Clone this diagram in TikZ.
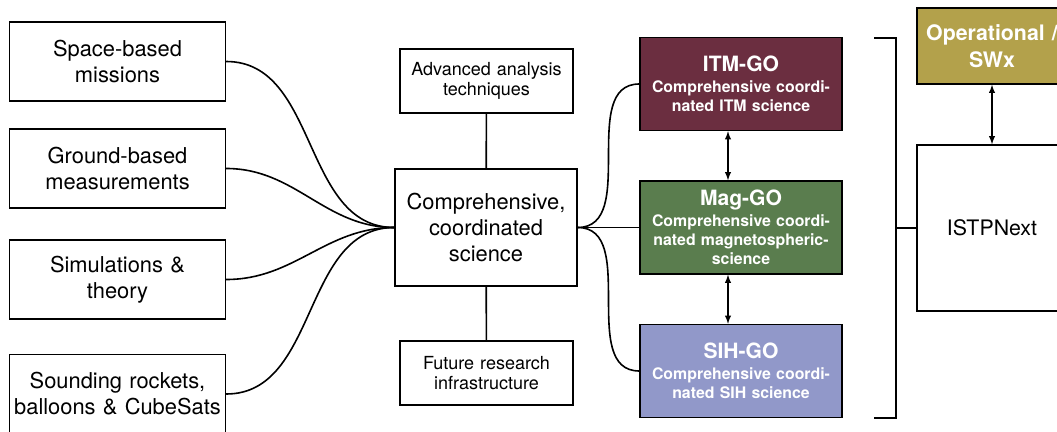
\documentclass[tikz,border=0pt]{standalone}
\usepackage{fontspec}
\setmainfont{TeX Gyre Heros}
\usetikzlibrary{shapes,arrows,positioning}

\definecolor{itmcol}{HTML}{6B2E40}
\definecolor{magcol}{HTML}{5A7D4E}
\definecolor{sihcol}{HTML}{9198C9}
\definecolor{opscol}{HTML}{B3A14B}

\newcommand{\gotitle}[1]{{\fontsize{15.8}{17}\selectfont #1}\\[1pt]}

\begin{document}
\begin{tikzpicture}[
    x=0.75pt, y=-0.75pt,
    every node/.style={
        draw, line width=1.1pt,
        inner sep=0pt,
        align=center
    },
    src/.style={text width=162pt, minimum height=59.25pt,
        font=\fontsize{16.4}{19.5}\selectfont},
    aux/.style={text width=129.75pt, minimum height=48pt,
        font=\fontsize{13.5}{15}\selectfont},
    go/.style={text width=151.5pt, minimum height=69.75pt, text=white,
        font=\fontsize{11.9}{14.5}\selectfont\bfseries},
    link/.style={line width=1.2pt},
    both/.style={line width=1.1pt, latex-latex}
]
\clip (0,0) rectangle (1057,432);

\node[src] (space)  at (117.5,61.5) {Space-based\\missions};
\node[src] (ground) at (117.5,168.5) {Ground-based\\measurements};
\node[src] (simul)  at (117.5,279.5) {Simulations \&\\theory};
\node[src] (rocket) at (117.5,394) {Sounding rockets,\\balloons \& CubeSats};

\node[text width=136.5pt, minimum height=87.75pt,
      font=\fontsize{16.4}{19.5}\selectfont] (sci) at (486,227.5)
      {Comprehensive,\\coordinated\\science};
\node[aux] (adv) at (486.5,81) {Advanced analysis\\techniques};
\node[aux] (fut) at (486.5,373) {Future research\\infrastructure};

\node[go, fill=itmcol] (itm) at (741,84)
      {\gotitle{ITM-GO}Comprehensive coordi-\\nated ITM science};
\node[go, fill=magcol] (mag) at (741,227.5)
      {\gotitle{Mag-GO}Comprehensive coordi-\\nated magnetospheric-\\science};
\node[go, fill=sihcol] (sih) at (741,371)
      {\gotitle{SIH-GO}Comprehensive coordi-\\nated SIH science};

\node[text width=112.5pt, minimum height=57pt, fill=opscol, text=white,
      font=\fontsize{16}{20}\selectfont\bfseries] (ops) at (992,46)
      {Operational /\\SWx};
\node[text width=112.5pt, minimum height=124.5pt,
      font=\fontsize{16}{19.5}\selectfont] (istp) at (992,228) {ISTPNext};

\draw[link] (space.east)  to[out=0,in=180] (sci.west);
\draw[link] (ground.east) to[out=0,in=180] (sci.west);
\draw[link] (simul.east)  to[out=0,in=180] (sci.west);
\draw[link] (rocket.east) to[out=0,in=180] (sci.west);

\draw[link] (adv) -- (sci);
\draw[link] (sci) -- (fut);

\draw[link] (sci.east) to[out=0,in=180] (itm.west);
\draw[link] (sci.east) -- (mag.west);
\draw[link] (sci.east) to[out=0,in=180] (sih.west);

\draw[both] ([xshift=-9.75pt]itm.south) -- ([xshift=-9.75pt]mag.north);
\draw[both] ([xshift=-9.75pt]mag.south) -- ([xshift=-9.75pt]sih.north);
\draw[both] (ops) -- (istp);

\draw[link] (874,38) -- (896,38) -- (896,418) -- (874,418);
\coordinate (brk) at (896,228);
\draw[link] (brk) -- (istp.west);
\end{tikzpicture}
\end{document}
